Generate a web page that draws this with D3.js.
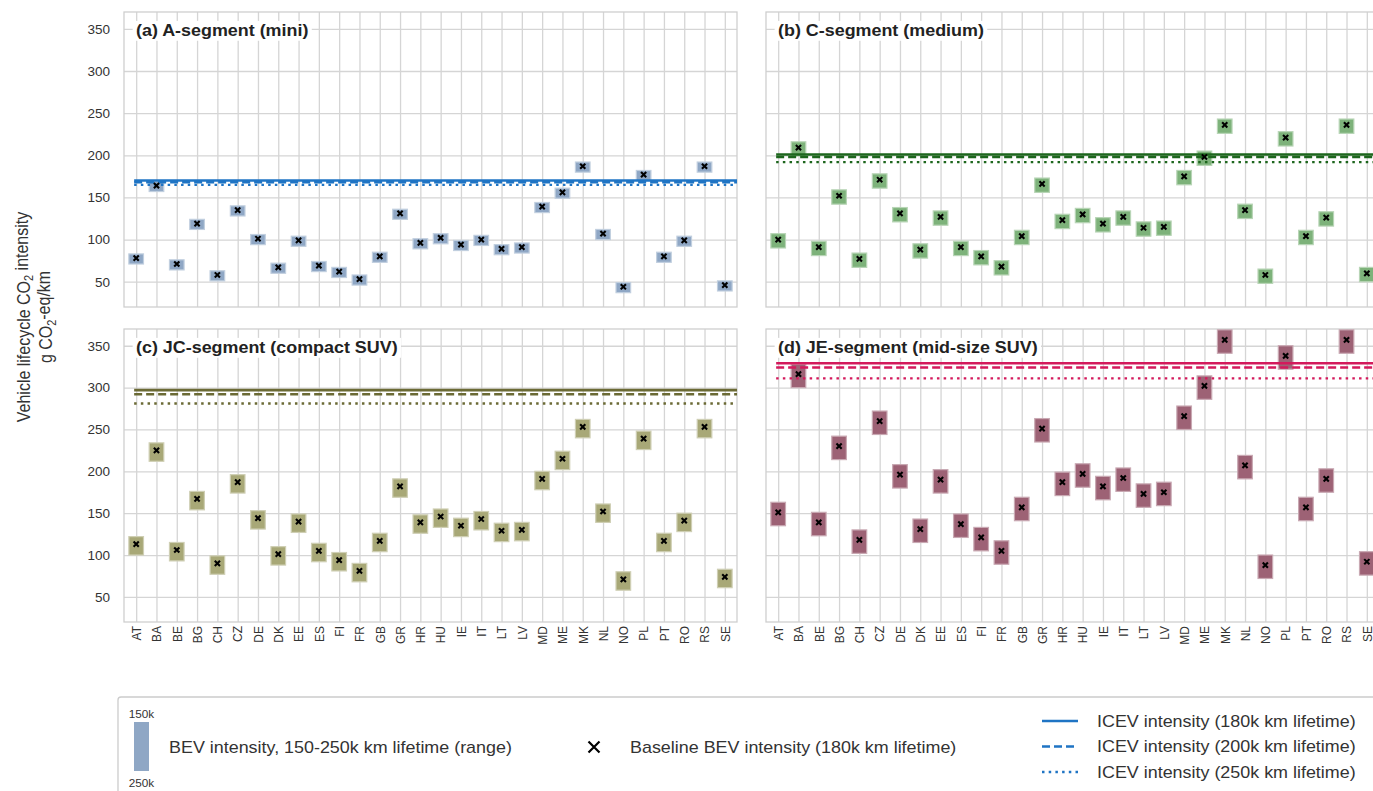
<!DOCTYPE html>
<html>
<head>
<meta charset="utf-8">
<script src="https://cdn.jsdelivr.net/npm/d3@7"></script>
<style>
  body { margin: 0; background: #fff; }
  svg { display: block; font-family: "Liberation Sans", Arial, sans-serif; }
</style>
</head>
<body>
<svg id="chart" width="1373" height="791"></svg>
<script>
// Countries on the x axis
const countries = ["AT","BA","BE","BG","CH","CZ","DE","DK","EE","ES","FI","FR","GB","GR","HR",
                   "HU","IE","IT","LT","LV","MD","ME","MK","NL","NO","PL","PT","RO","RS","SE"];

// BEV lifecycle intensity, g CO2-eq/km: baseline (180k km), 150k km (upper) and 250k km (lower)
const baseA = [78,164,71,119,58,135,101,67,99,69,62,53,80,131,96,102,94,100,89,91,139,156,187,107,44,177,80,99,187,46];
const highA = [83,169,76,124,63,140,106,72,104,74,67,58,85,136,101,107,99,105,94,96,144,161,192,112,49,182,85,104,192,51];
const lowA  = [71,157,64,112,51,128,94,60,92,62,55,46,73,124,89,95,87,93,82,84,132,149,180,100,37,170,73,92,180,39];

const baseB = [100,209,91,152,77,171,131,88,127,91,80,68,104,166,123,130,119,127,114,115,175,198,236,135,58,221,104,126,236,60];
const highB = [107,216,98,159,84,178,138,95,134,98,87,75,111,173,130,137,126,134,121,122,182,205,243,142,65,228,111,133,243,67];
const lowB  = [90,199,81,142,67,161,121,78,117,81,70,58,94,156,113,120,109,117,104,105,165,188,226,125,48,211,94,116,226,50];

const baseC = [113,225,106,167,90,187,144,101,140,105,94,81,117,182,139,146,135,143,129,130,191,215,253,152,71,239,117,141,253,74];
const highC = [122,234,115,176,99,196,153,110,149,114,103,90,126,191,148,155,144,152,138,139,200,224,262,161,80,248,126,150,262,83];
const lowC  = [100,212,93,154,77,174,131,88,127,92,81,68,104,169,126,133,122,130,116,117,178,202,240,139,58,226,104,128,240,61];

const baseD = [151,316,139,230,118,260,196,131,190,137,121,105,157,251,187,197,182,192,173,175,266,302,357,207,88,338,157,191,357,92];
const highD = [163,328,151,242,130,272,208,143,202,149,133,117,169,263,199,209,194,204,185,187,278,314,369,219,100,350,169,203,369,104];
const lowD  = [135,300,123,214,102,244,180,115,174,121,105,89,141,235,171,181,166,176,157,159,250,286,341,191,72,322,141,175,341,76];

// ICEV intensity at 180k, 200k and 250k km lifetime
const icevA = [170, 168, 165];
const icevB = [201, 198, 192];
const icevC = [297, 292, 281];
const icevD = [329, 324, 311];

const yTicks = [50, 100, 150, 200, 250, 300, 350];
const titles = ["(a) A-segment (mini)", "(b) C-segment (medium)",
                "(c) JC-segment (compact SUV)", "(d) JE-segment (mid-size SUV)"];
const lifetimes = ["180k", "200k", "250k"];

const panels = [
  { title: titles[0], base: baseA, high: highA, low: lowA, icev: icevA, bar: "#8fa7c5", line: "#1f74c4" },
  { title: titles[1], base: baseB, high: highB, low: lowB, icev: icevB, bar: "#7db27a", line: "#1d661d" },
  { title: titles[2], base: baseC, high: highC, low: lowC, icev: icevC, bar: "#a8a877", line: "#6b6a35" },
  { title: titles[3], base: baseD, high: highD, low: lowD, icev: icevD, bar: "#9d6275", line: "#d31a5c" }
];

const svg = d3.select("#chart");
const SX = 1.12;               // horizontal text stretch
const panelW = 613;
const colLeft = [124, 766];
const rowSpan = [[12, 307], [329, 622]];
const dashes = [null, "8,4", "2.5,4.2"];
const xPath = s => `M${-s},${-s}L${s},${s}M${-s},${s}L${s},${-s}`;

panels.forEach((p, k) => {
  const left = colLeft[k % 2];
  const [top, bottom] = rowSpan[Math.floor(k / 2)];
  const x = d3.scaleLinear().domain([-0.6, 29.6]).range([left, left + panelW]);
  const y = d3.scaleLinear().domain([20, 370]).range([bottom, top]);
  const g = svg.append("g");

  // horizontal grid + y tick labels
  const gy = g.append("g").attr("transform", `translate(${left},0)`)
    .call(d3.axisLeft(y).tickValues(yTicks).tickSize(-panelW).tickPadding(14)
      .tickFormat(k % 2 === 0 ? d3.format("d") : () => ""));
  gy.select(".domain").remove();
  gy.selectAll("line").attr("stroke", "#d5d5d5").attr("stroke-width", 1.3);
  gy.selectAll("text").attr("fill", "#333").style("font-size", "13.5px");

  // vertical grid + country labels
  const gx = g.append("g").attr("transform", `translate(0,${bottom})`)
    .call(d3.axisBottom(x).tickValues(d3.range(countries.length)).tickSize(-(bottom - top))
      .tickFormat(i => k >= 2 ? countries[i] : ""));
  gx.select(".domain").remove();
  gx.selectAll("line").attr("stroke", "#d5d5d5").attr("stroke-width", 1.3);
  gx.selectAll("text")
    .attr("transform", "rotate(-90)")
    .attr("text-anchor", "end")
    .attr("x", -4).attr("y", 0).attr("dy", "0.36em")
    .attr("fill", "#333").style("font-size", "12px");

  // frame
  g.append("rect").attr("x", left).attr("y", top)
    .attr("width", panelW).attr("height", bottom - top)
    .attr("fill", "none").attr("stroke", "#cfcfcf").attr("stroke-width", 1.3);

  // BEV range boxes (150k to 250k km)
  const bw = x(0.36) - x(-0.36);
  const edge = d3.interpolateRgb(p.bar, "#ffffff")(0.45);
  g.append("g").selectAll("rect").data(p.base).join("rect")
    .attr("x", (d, i) => x(i) - bw / 2)
    .attr("y", (d, i) => y(p.high[i]))
    .attr("width", bw)
    .attr("height", (d, i) => y(p.low[i]) - y(p.high[i]))
    .attr("fill", p.bar).attr("stroke", edge).attr("stroke-width", 1.2);

  // ICEV reference lines
  g.append("g").selectAll("line").data(p.icev).join("line")
    .attr("x1", x(-0.1)).attr("x2", x(29.6))
    .attr("y1", d => y(d)).attr("y2", d => y(d))
    .attr("stroke", p.line)
    .attr("stroke-width", (d, i) => i === 2 ? 2.3 : 2.6)
    .attr("stroke-dasharray", (d, i) => dashes[i]);

  // baseline markers
  g.append("g").selectAll("path").data(p.base).join("path")
    .attr("transform", (d, i) => `translate(${x(i)},${y(d)})`)
    .attr("d", xPath(2.6))
    .attr("stroke", "#000").attr("stroke-width", 2.1).attr("fill", "none");

  // panel title with white backing
  const tg = g.append("g").attr("transform", `translate(${left + 12},${top + 24}) scale(${SX},1)`);
  const bg = tg.append("rect").attr("fill", "#fff");
  const tt = tg.append("text").text(p.title)
    .attr("fill", "#222").style("font-size", "16px").style("font-weight", "bold");
  const bb = tt.node().getBBox();
  bg.attr("x", bb.x - 3).attr("y", bb.y - 1).attr("width", bb.width + 6).attr("height", bb.height + 2);
});

// y-axis title
const yl = svg.append("g").attr("fill", "#333").style("font-size", "16px");
const l1 = yl.append("text").attr("text-anchor", "middle")
  .attr("transform", `translate(29.5,317) scale(${SX},1) rotate(-90)`);
l1.append("tspan").text("Vehicle lifecycle CO");
l1.append("tspan").text("2").attr("dy", "0.3em").style("font-size", "11px");
l1.append("tspan").text(" intensity").attr("dy", "-0.3em");
const l2 = yl.append("text").attr("text-anchor", "middle")
  .attr("transform", `translate(52,317) scale(${SX},1) rotate(-90)`);
l2.append("tspan").text("g CO");
l2.append("tspan").text("2").attr("dy", "0.3em").style("font-size", "11px");
l2.append("tspan").text("-eq/km").attr("dy", "-0.3em");

// legend
const lg = svg.append("g");
lg.append("rect").attr("x", 118).attr("y", 697).attr("width", 1300).attr("height", 130)
  .attr("rx", 3).attr("fill", "#fff").attr("stroke", "#cccccc").attr("stroke-width", 1.3);
lg.append("rect").attr("x", 134).attr("y", 722).attr("width", 15).attr("height", 49)
  .attr("fill", panels[0].bar);
const small = (tx, ty, s) => lg.append("text").attr("text-anchor", "middle")
  .attr("transform", `translate(${tx},${ty}) scale(${SX},1)`)
  .attr("fill", "#333").style("font-size", "10.5px").text(s);
small(141.5, 718, "150k");
small(141.5, 787, "250k");
const ltext = (tx, ty, s) => lg.append("text")
  .attr("transform", `translate(${tx},${ty}) scale(${SX},1)`)
  .attr("fill", "#333").style("font-size", "16px").text(s);
ltext(169, 752.5, "BEV intensity, 150-250k km lifetime (range)");
lg.append("path").attr("transform", "translate(594,747)").attr("d", xPath(5.5))
  .attr("stroke", "#000").attr("stroke-width", 2.2);
ltext(630, 752.5, "Baseline BEV intensity (180k km lifetime)");
lifetimes.forEach((lt, i) => {
  const ly = 721 + i * 25.5;
  lg.append("line").attr("x1", 1042).attr("x2", 1078).attr("y1", ly).attr("y2", ly)
    .attr("stroke", panels[0].line).attr("stroke-width", i === 2 ? 2.3 : 2.6)
    .attr("stroke-dasharray", dashes[i]);
  ltext(1097, ly + 5.5, `ICEV intensity (${lt} km lifetime)`);
});
</script>
</body>
</html>
